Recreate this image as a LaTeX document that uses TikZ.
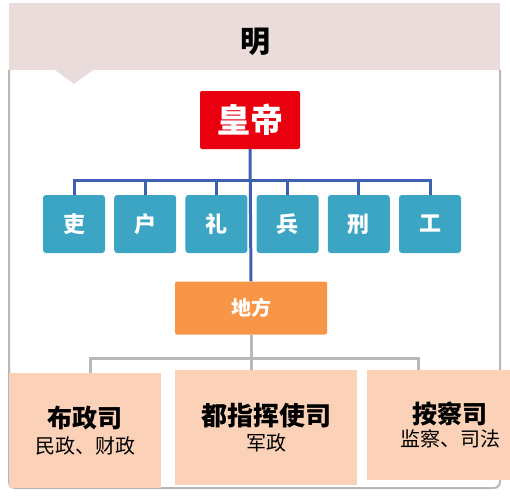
\documentclass[tikz,border=0pt]{standalone}
\usepackage{fontspec}
\setmainfont{Noto Sans CJK SC}
\usetikzlibrary{calc,positioning}
\definecolor{hdr}{HTML}{EBDCDC}
\definecolor{frm}{HTML}{B8B8B8}
\definecolor{emp}{HTML}{E8000E}
\definecolor{bu}{HTML}{3DA5C4}
\definecolor{ln}{HTML}{3F5FB0}
\definecolor{df}{HTML}{F79646}
\definecolor{si}{HTML}{FBD2B8}
\tikzset{bubox/.style={fill=bu, rounded corners=3pt, minimum width=62pt, minimum height=58pt, text=white, font=\bfseries\fontsize{22}{22}\selectfont},
 sibox/.style={fill=si, align=center, inner sep=0pt}}

\begin{document}
\begin{tikzpicture} [x=1pt, y=-1pt]
\useasboundingbox (0,0) rectangle (510,500);
\fill[hdr] (9,3) rectangle (500,70);
\fill[hdr] (55,70) -- (74,84) -- (93,70) -- cycle;
\draw[frm, line width=2pt, rounded corners=6pt] (9,70) -- (9,488) -- (500,488) -- (500,70);
\node[font=\bfseries\fontsize{30}{30}\selectfont] (tt) at (255,42) {明};
\node[fill=emp, rounded corners=2pt, minimum width=100pt, minimum height=58pt, text=white, font=\bfseries\fontsize{33}{33}\selectfont] (hd) at (250,120) {皇帝};
\node[fill=df, rounded corners=2pt, minimum width=152pt, minimum height=53pt, text=white, font=\bfseries\fontsize{20}{20}\selectfont] (dfn) at (251,308) {地方};
\coordinate (j) at (251,180);
\foreach \t [count=\i, evaluate=\i as \xi using 2.8+71.2*\i] in {吏,户,礼,兵,刑,工} {
 \node[bubox] (b\i) at (\xi,224) {\t};
 \draw[ln, line width=3pt] (b\i.north) |- (j);
}
\draw[ln, line width=3pt] (hd.south) -- (dfn.north);
\node[sibox, minimum width=152pt, minimum height=115pt] (s1) at (85,430.5) {\fontsize{25}{30}\selectfont\bfseries 布政司\\[5pt]\fontsize{20}{20}\selectfont 民政、财政};
\node[sibox, minimum width=182pt, minimum height=115pt] (s2) at (266,427.5) {\fontsize{26}{30}\selectfont\bfseries 都指挥使司\\[5pt]\fontsize{20}{20}\selectfont 军政};
\node[sibox, minimum width=143pt, minimum height=110pt] (s3) at (438.5,425) {};
\node[align=center, inner sep=0pt] (s3t) at (450,425) {\fontsize{25}{30}\selectfont\bfseries 按察司\\[3pt]\fontsize{20}{20}\selectfont 监察、司法};
\coordinate (k) at (251,358);
\draw[frm, line width=3pt] (dfn.south) -- (dfn.south |- s2.north);
\draw[frm, line width=3pt] ([xshift=5pt]s1.north) |- (k) -| ([xshift=-20pt]s3.north);
\end{tikzpicture}
\end{document}
